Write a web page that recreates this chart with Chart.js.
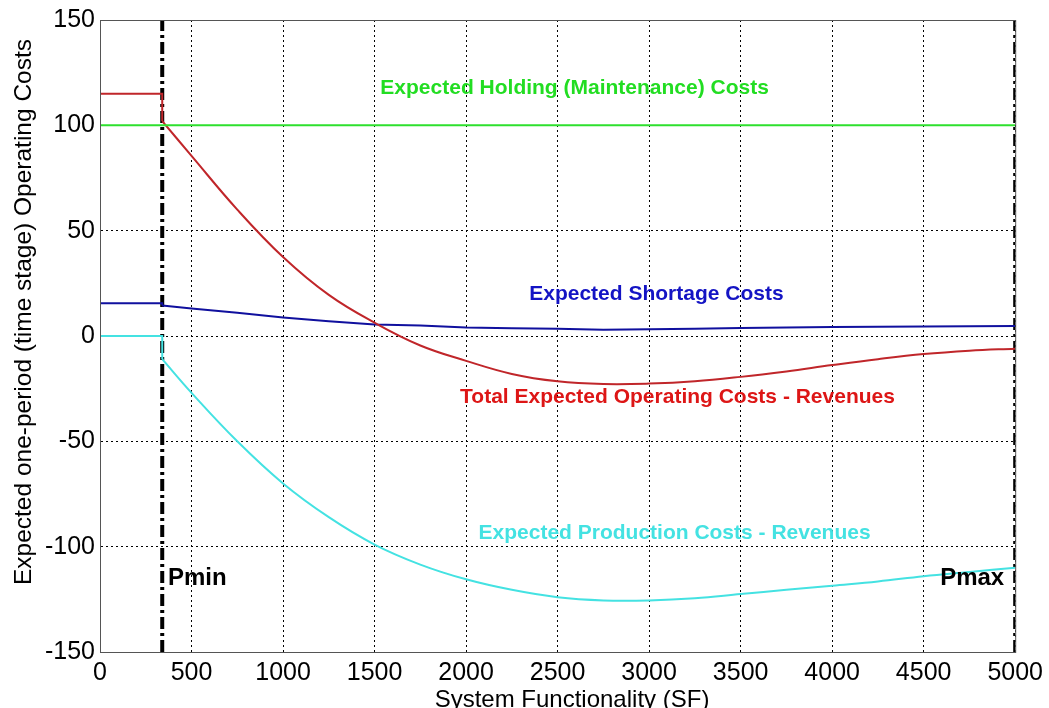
<!DOCTYPE html>
<html>
<head>
<meta charset="utf-8">
<script src="https://cdn.jsdelivr.net/npm/chart.js@4.4.1/dist/chart.umd.min.js"></script>
<style>
  html, body { margin: 0; padding: 0; background: #fff; }
  canvas { display: block; }
</style>
</head>
<body>
<canvas id="costChart" width="1049" height="708"></canvas>
<script>
// Pmin / Pmax positions on the SF axis
const P_MIN = 340;
const P_MAX = 5000;

// Flat part before Pmin (last point is the drop at Pmin)
const preX = [0, 340, 340];
const totalPre = [115, 115, 102];
const shortagePre = [15.5, 15.5, 14.5];
const productionPre = [0, 0, -11];

// Curves from Pmin to Pmax
const curveX = [340, 500, 750, 1000, 1250, 1500, 1750, 2000, 2250, 2500,
                2750, 3000, 3250, 3500, 3750, 4000, 4250, 4500, 4750, 5000];
const totalCosts = [102, 85.5, 60, 37.5, 19.5, 6.3, -4.5, -11.8, -18, -21.5,
                    -22.8, -22.6, -21.5, -19.4, -16.8, -13.8, -11, -8.6, -7, -6];
const shortageCosts = [14.5, 13, 11, 8.8, 7, 5.5, 5, 4, 3.7, 3.5,
                       3.0, 3.2, 3.5, 3.8, 4, 4.3, 4.4, 4.5, 4.6, 4.7];
const productionCosts = [-11, -27, -50, -70, -86, -99, -108.5, -115.5, -120.5, -124,
                         -125.5, -125.5, -124.5, -122.5, -120.5, -118.5, -116.5, -114, -112, -110];

// Holding cost is constant over the whole range
const holdingX = [0, 5000];
const holdingCosts = [100, 100];

const yTicks = [-150, -100, -50, 0, 50, 100, 150];

const GREEN = '#2ee02e';
const RED = '#c0262a';
const BLUE = '#10109e';
const CYAN = '#44e2e2';
const FONT = '"Liberation Sans", Arial, sans-serif';

const toPoints = (xs, ys) => xs.map((x, i) => ({ x: x, y: ys[i] }));

function lineSet(data, color, smooth) {
    return {
        data: data,
        borderColor: color,
        borderWidth: 2,
        pointRadius: 0,
        fill: false,
        tension: smooth ? 0.4 : 0,
    };
}

function limitLine(x) {
    return {
        data: [{ x: x, y: -150 }, { x: x, y: 150 }],
        borderColor: '#000',
        borderWidth: 4,
        borderDash: [12, 4, 3, 4],
        pointRadius: 0,
        fill: false,
    };
}

// Curve labels, placed in data coordinates
const curveLabels = [
    { text: 'Expected Holding (Maintenance) Costs', x: 2593, y: 117.4, color: '#22dd22', align: 'center', size: 21 },
    { text: 'Expected Shortage Costs', x: 3040, y: 19.9, color: '#1414c4', align: 'center', size: 21 },
    { text: 'Total Expected Operating Costs - Revenues', x: 3155, y: -29, color: '#dd1616', align: 'center', size: 21 },
    { text: 'Expected Production Costs - Revenues', x: 3139, y: -93.7, color: '#44e2e2', align: 'center', size: 21 },
    { text: 'Pmin', x: 371, y: -115, color: '#000', align: 'left', size: 24 },
    { text: 'Pmax', x: 4590, y: -115, color: '#000', align: 'left', size: 24 },
];

const X_TITLE = 'System Functionality (SF)';
const Y_TITLE = 'Expected one-period (time stage) Operating Costs';

const labelPlugin = {
    id: 'curveLabels',
    afterDatasetsDraw(chart) {
        const { ctx, scales } = chart;
        ctx.save();
        curveLabels.forEach(l => {
            ctx.font = `bold ${l.size}px ${FONT}`;
            ctx.fillStyle = l.color;
            ctx.textAlign = l.align;
            ctx.textBaseline = 'middle';
            ctx.fillText(l.text, scales.x.getPixelForValue(l.x), scales.y.getPixelForValue(l.y));
        });
        ctx.restore();
    },
};

// Axis titles (MATLAB places them slightly off the plot centre)
const titlePlugin = {
    id: 'axisTitles',
    afterDraw(chart) {
        const { ctx } = chart;
        ctx.save();
        ctx.fillStyle = '#000';
        ctx.textAlign = 'center';
        ctx.textBaseline = 'middle';
        ctx.font = `24px ${FONT}`;
        ctx.fillText(X_TITLE, 572, 700);
        ctx.translate(24, 312);
        ctx.rotate(-Math.PI / 2);
        ctx.font = `24.5px ${FONT}`;
        ctx.fillText(Y_TITLE, 0, 0);
        ctx.restore();
    },
};

// MATLAB-style box around the plot
const boxPlugin = {
    id: 'plotBox',
    afterDraw(chart) {
        const { ctx, chartArea: a } = chart;
        ctx.save();
        ctx.strokeStyle = '#555';
        ctx.lineWidth = 1;
        ctx.strokeRect(a.left + 0.5, a.top + 0.5, a.right - a.left, a.bottom - a.top);
        ctx.restore();
    },
};

new Chart(document.getElementById('costChart'), {
    type: 'line',
    data: {
        datasets: [
            lineSet(toPoints(holdingX, holdingCosts), GREEN, false),
            lineSet(toPoints(preX, totalPre), RED, false),
            lineSet(toPoints(curveX, totalCosts), RED, true),
            lineSet(toPoints(preX, shortagePre), BLUE, false),
            lineSet(toPoints(curveX, shortageCosts), BLUE, false),
            lineSet(toPoints(preX, productionPre), CYAN, false),
            lineSet(toPoints(curveX, productionCosts), CYAN, true),
            limitLine(P_MIN),
            limitLine(P_MAX),
        ],
    },
    options: {
        responsive: false,
        animation: false,
        devicePixelRatio: 1,
        layout: { padding: { top: 18, right: 33, left: 0, bottom: 0 } },
        plugins: {
            legend: { display: false },
            tooltip: { enabled: false },
        },
        scales: {
            x: {
                type: 'linear',
                min: 0,
                max: 5000,
                afterFit: s => { s.height = 56; },
                ticks: {
                    stepSize: 500,
                    padding: 6,
                    color: '#000',
                    font: { family: FONT, size: 25 },
                    callback: v => String(v),
                },
                grid: { color: '#000', lineWidth: 1, drawTicks: false },
                border: { color: '#555', dash: [2, 3] },
            },
            y: {
                min: -150,
                max: 150,
                afterFit: s => { s.width = 100; },
                afterBuildTicks: s => { s.ticks = yTicks.map(v => ({ value: v })); },
                ticks: {
                    padding: 5,
                    color: '#000',
                    font: { family: FONT, size: 25 },
                },
                grid: { color: '#000', lineWidth: 1, drawTicks: false },
                border: { color: '#555', dash: [2, 3] },
            },
        },
    },
    plugins: [labelPlugin, titlePlugin, boxPlugin],
});
</script>
</body>
</html>
